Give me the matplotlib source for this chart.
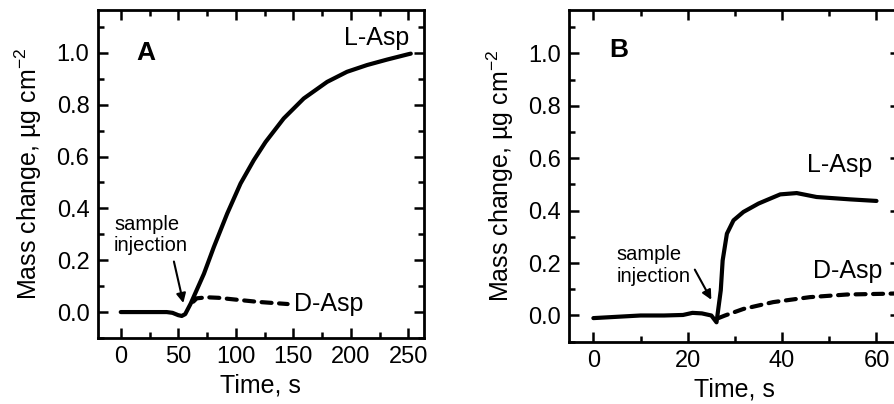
import matplotlib
matplotlib.use("Agg")
import matplotlib.pyplot as plt
from matplotlib.ticker import MultipleLocator

plt.rcParams['font.family'] = ['Liberation Sans', 'DejaVu Sans']
plt.rcParams['mathtext.fontset'] = 'custom'
plt.rcParams['mathtext.rm'] = 'Liberation Sans'
plt.rcParams['mathtext.it'] = 'Liberation Sans:italic'

# Panel A: slow response (time in s, mass change in ug cm-2)
a_l_time = [0, 10, 20, 30, 40, 45, 50, 53, 56, 60.7, 66, 72.3, 80.9, 92.5,
            104.1, 115.6, 125.8, 141.6, 159, 179.3, 196.6, 214, 231.3, 250, 252]
a_l_mass = [0, 0, 0, 0, 0, -0.003, -0.012, -0.015, -0.008, 0.032, 0.085, 0.148,
            0.251, 0.38, 0.496, 0.586, 0.656, 0.747, 0.824, 0.888, 0.927, 0.953,
            0.974, 0.995, 0.997]
a_d_time = [63, 66, 75, 85, 100, 120, 145]
a_d_mass = [0.04, 0.053, 0.057, 0.055, 0.048, 0.039, 0.031]

# Panel B: fast response
b_l_time = [0, 5, 10, 15, 19, 21, 23, 25, 26.1, 27.0, 27.4, 28.3, 29.7, 31.8,
            35, 36.7, 39.6, 43.1, 47.3, 54.4, 60]
b_l_mass = [-0.01, -0.005, 0, 0, 0.002, 0.01, 0.008, 0, -0.026, 0.096, 0.21,
            0.312, 0.363, 0.395, 0.427, 0.44, 0.462, 0.467, 0.452, 0.443, 0.437]
b_d_time = [26.5, 27.9, 31.8, 38.1, 45.9, 53.7, 62.2, 66]
b_d_mass = [-0.01, 0.0, 0.025, 0.051, 0.07, 0.08, 0.083, 0.085]

ylabel = u"Mass change, \u00b5g cm$^{-2}$"


def style_axes(ax, xmajor, xminor):
    ax.xaxis.set_major_locator(MultipleLocator(xmajor))
    ax.xaxis.set_minor_locator(MultipleLocator(xminor))
    ax.yaxis.set_major_locator(MultipleLocator(0.2))
    ax.yaxis.set_minor_locator(MultipleLocator(0.1))
    ax.tick_params(which='both', direction='in', top=True, right=True, width=1.8)
    ax.tick_params(which='major', length=7, labelsize=17, pad=6)
    ax.tick_params(which='minor', length=4)
    for s in ax.spines.values():
        s.set_linewidth(2)
    ax.set_ylim(-0.1, 1.165)
    ax.yaxis.set_major_formatter(plt.FuncFormatter(lambda v, p: "%.1f" % v))
    ax.set_xlabel("Time, s", fontsize=18, labelpad=4)
    ax.set_ylabel(ylabel, fontsize=18, labelpad=9)


def draw_curves(ax, lt, lm, dt, dm):
    ax.plot(dt, dm, color='black', lw=3, dashes=(2.4, 1.8), dash_capstyle='round')
    ax.plot(lt, lm, color='black', lw=3, solid_capstyle='round',
            solid_joinstyle='round')


fig = plt.figure(figsize=(8.94, 4.04), dpi=100)
ax_a = fig.add_axes([0.1093, 0.1634, 0.365, 0.8116])
ax_b = fig.add_axes([0.6368, 0.1542, 0.370, 0.8208])

draw_curves(ax_a, a_l_time, a_l_mass, a_d_time, a_d_mass)
ax_a.set_xlim(-20, 263.5)
style_axes(ax_a, 50, 25)
ax_a.text(21.7, 1.0, "A", fontsize=19, fontweight='bold', ha='center', va='center')
ax_a.text(222.6, 1.058, "L-Asp", fontsize=18, ha='center', va='center')
ax_a.text(180.5, 0.03, "D-Asp", fontsize=18, ha='center', va='center')
ax_a.text(-5.8, 0.296, "sample\ninjection", fontsize=14.5, ha='left', va='center',
          linespacing=1.15)
ax_a.annotate("", xy=(54.4, 0.035), xytext=(46.2, 0.195),
              arrowprops=dict(arrowstyle='-|>', color='black', lw=1.5,
                              mutation_scale=14, shrinkA=0, shrinkB=0))

draw_curves(ax_b, b_l_time, b_l_mass, b_d_time, b_d_mass)
ax_b.set_xlim(-5.1, 65)
style_axes(ax_b, 20, 10)
ax_b.text(5.3, 1.013, "B", fontsize=19, fontweight='bold', ha='center', va='center')
ax_b.text(52.2, 0.573, "L-Asp", fontsize=18, ha='center', va='center')
ax_b.text(54, 0.169, "D-Asp", fontsize=18, ha='center', va='center')
ax_b.text(4.95, 0.191, "sample\ninjection", fontsize=14.5, ha='left', va='center',
          linespacing=1.15)
ax_b.annotate("", xy=(25.0, 0.06), xytext=(21.5, 0.175),
              arrowprops=dict(arrowstyle='-|>', color='black', lw=1.5,
                              mutation_scale=14, shrinkA=0, shrinkB=0))

fig.savefig("out.png", dpi=100)
